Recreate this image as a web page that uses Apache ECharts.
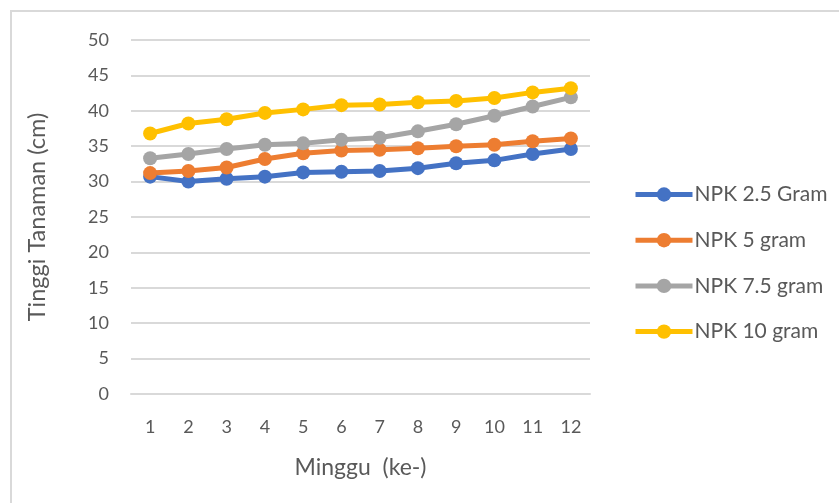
<!DOCTYPE html>
<html><head><meta charset="utf-8">
<script src="https://cdn.jsdelivr.net/npm/echarts@6/dist/echarts.min.js"></script>
<style>html,body{margin:0;padding:0;background:#fff}#c{width:839px;height:503px}</style>
</head><body><div id="c"></div>
<script>
const categories = ['1','2','3','4','5','6','7','8','9','10','11','12'];
const npk25 = [30.7, 30.0, 30.4, 30.7, 31.3, 31.4, 31.5, 31.9, 32.6, 33.0, 33.9, 34.6];
const npk5  = [31.2, 31.5, 32.0, 33.2, 34.0, 34.4, 34.5, 34.7, 35.0, 35.2, 35.7, 36.1];
const npk75 = [33.3, 33.9, 34.6, 35.2, 35.4, 35.9, 36.2, 37.1, 38.1, 39.3, 40.6, 41.9];
const npk10 = [36.8, 38.2, 38.8, 39.7, 40.2, 40.8, 40.9, 41.2, 41.4, 41.8, 42.6, 43.2];
const seriesNames = ['NPK 2.5 Gram','NPK 5 gram','NPK 7.5 gram','NPK 10 gram'];
const colors = ['#4472C4','#ED7D31','#A5A5A5','#FFC000'];
const font = 'Lato, "Open Sans", sans-serif';
const txt = '#595959';
const chart = echarts.init(document.getElementById('c'));
const mk = (name, data, i) => ({
  name, type:'line', data, color: colors[i],
  symbol:'circle', symbolSize:14,
  lineStyle:{width:5, color: colors[i]},
  itemStyle:{color: colors[i]},
  emphasis:{disabled:true}
});
chart.setOption({
  animation:false,
  textStyle:{fontFamily:font},
  graphic:[{type:'rect', shape:{x:11,y:11,width:900,height:600}, style:{fill:'none', stroke:'#d9d9d9', lineWidth:2}, silent:true}],
  grid:{left:131, right:249, top:40, bottom:109},
  legend:{
    orient:'vertical', left:628, top:179, itemWidth:57, itemHeight:18, itemGap:24.7,
    lineStyle:{width:5},
    textStyle:{fontSize:21, color:txt, fontFamily:font, padding:[0,0,0,-3]},
    data: seriesNames
  },
  xAxis:{
    type:'category', data:categories, boundaryGap:true,
    name:'Minggu  (ke-)', nameLocation:'middle', nameGap:62,
    nameTextStyle:{fontSize:23, color:txt, fontFamily:font},
    axisLine:{show:true, lineStyle:{color:'#d9d9d9', width:2}},
    axisTick:{show:false},
    axisLabel:{fontSize:18, color:txt, margin:24, fontFamily:font}
  },
  yAxis:{
    type:'value', min:0, max:50, interval:5,
    name:'Tinggi Tanaman (cm)', nameLocation:'middle', nameGap:82,
    nameTextStyle:{fontSize:23.5, color:txt, fontFamily:font},
    axisLine:{show:false}, axisTick:{show:false},
    axisLabel:{fontSize:18, color:txt, margin:22, fontFamily:font},
    splitLine:{lineStyle:{color:'#d9d9d9', width:2}}
  },
  series:[mk(seriesNames[0],npk25,0), mk(seriesNames[1],npk5,1), mk(seriesNames[2],npk75,2), mk(seriesNames[3],npk10,3)]
});
</script></body></html>
